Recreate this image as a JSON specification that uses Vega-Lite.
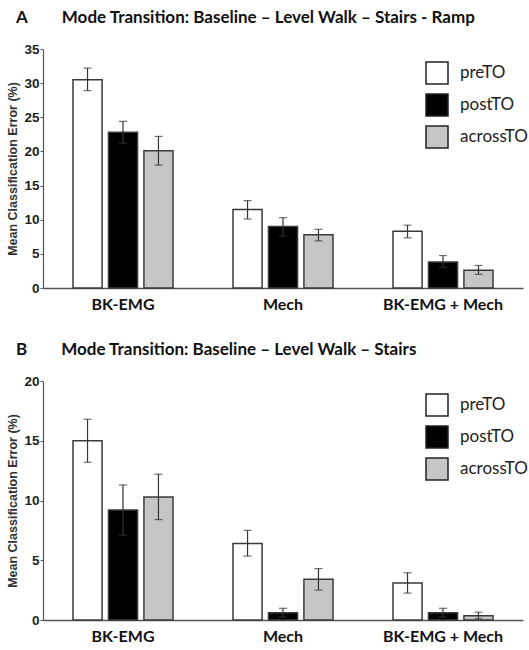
{
  "$schema": "https://vega.github.io/schema/vega-lite/v6.json",
  "background": "white",
  "padding": {"left": 6, "top": 9, "right": 1, "bottom": 0},
  "spacing": 29,
  "config": {
    "view": {"stroke": null},
    "font": "Lato",
    "title": {"font": "Lato", "fontSize": 17, "fontWeight": "bold", "color": "#111", "anchor": "start", "frame": "group", "dx": -27, "offset": 15},
    "axisX": {"domainColor": "#555", "domainWidth": 1.5, "ticks": false, "labelFont": "Lato", "labelFontSize": 16, "labelFontWeight": "bold", "labelColor": "#111", "labelPadding": 8, "labelAngle": 0, "title": null},
    "axisY": {"domainColor": "#555", "domainWidth": 1.2, "tickColor": "#555", "tickSize": 3, "labelFont": "Liberation Sans", "labelFontSize": 13.5, "labelFontWeight": "bold", "labelColor": "#222", "labelPadding": 1, "labelOverlap": false, "grid": false, "titleFont": "Liberation Sans", "titleFontSize": 12.5, "titleFontWeight": "bold", "titleColor": "#333", "titlePadding": 4},
    "legend": {"orient": "none", "legendX": 382, "legendY": 12, "symbolType": "square", "symbolSize": 484, "symbolStrokeColor": "#222", "symbolStrokeWidth": 1.5, "labelFont": "Lato", "labelFontSize": 17, "labelColor": "#222", "labelOffset": 11, "rowPadding": 4, "title": null}
  },
  "datasets": {
    "A": [
      {"interface": "BK-EMG", "window": "preTO", "mean": 30.5, "lo": 28.9, "hi": 32.2},
      {"interface": "BK-EMG", "window": "postTO", "mean": 22.8, "lo": 21.2, "hi": 24.4},
      {"interface": "BK-EMG", "window": "acrossTO", "mean": 20.1, "lo": 18.0, "hi": 22.2},
      {"interface": "Mech", "window": "preTO", "mean": 11.5, "lo": 10.1, "hi": 12.8},
      {"interface": "Mech", "window": "postTO", "mean": 9.0, "lo": 7.6, "hi": 10.3},
      {"interface": "Mech", "window": "acrossTO", "mean": 7.8, "lo": 6.9, "hi": 8.6},
      {"interface": "BK-EMG + Mech", "window": "preTO", "mean": 8.3, "lo": 7.35, "hi": 9.2},
      {"interface": "BK-EMG + Mech", "window": "postTO", "mean": 3.8, "lo": 3.0, "hi": 4.75},
      {"interface": "BK-EMG + Mech", "window": "acrossTO", "mean": 2.6, "lo": 2.0, "hi": 3.3}
    ],
    "B": [
      {"interface": "BK-EMG", "window": "preTO", "mean": 15.0, "lo": 13.2, "hi": 16.8},
      {"interface": "BK-EMG", "window": "postTO", "mean": 9.2, "lo": 7.1, "hi": 11.3},
      {"interface": "BK-EMG", "window": "acrossTO", "mean": 10.3, "lo": 8.4, "hi": 12.2},
      {"interface": "Mech", "window": "preTO", "mean": 6.4, "lo": 5.35, "hi": 7.5},
      {"interface": "Mech", "window": "postTO", "mean": 0.6, "lo": 0.25, "hi": 0.98},
      {"interface": "Mech", "window": "acrossTO", "mean": 3.4, "lo": 2.5, "hi": 4.3},
      {"interface": "BK-EMG + Mech", "window": "preTO", "mean": 3.1, "lo": 2.25, "hi": 3.95},
      {"interface": "BK-EMG + Mech", "window": "postTO", "mean": 0.6, "lo": 0.25, "hi": 0.98},
      {"interface": "BK-EMG + Mech", "window": "acrossTO", "mean": 0.35, "lo": 0.1, "hi": 0.65}
    ]
  },
  "vconcat": [
    {
      "title": {"text": "A\u2003\u2003\u2002Mode Transition: Baseline \u2013 Level Walk \u2013 Stairs - Ramp"},
      "width": 480,
      "height": 239,
      "data": {"name": "A"},
      "encoding": {
        "x": {"field": "interface", "type": "nominal", "sort": ["BK-EMG", "Mech", "BK-EMG + Mech"], "scale": {"paddingInner": 0.375, "paddingOuter": 0.1875}},
        "xOffset": {"field": "window", "type": "nominal", "sort": ["preTO", "postTO", "acrossTO"], "scale": {"paddingInner": 0.18}}
      },
      "layer": [
        {
          "mark": {"type": "bar", "stroke": "#3a3a3a", "strokeWidth": 1.5},
          "encoding": {
            "y": {"field": "mean", "type": "quantitative", "scale": {"domain": [0, 35]}, "axis": {"values": [0, 5, 10, 15, 20, 25, 30, 35], "labelOverlap": false, "title": "Mean Classification Error (%)"}},
            "fill": {"field": "window", "type": "nominal", "scale": {"domain": ["preTO", "postTO", "acrossTO"], "range": ["#ffffff", "#000000", "#c6c6c6"]}}
          }
        },
        {
          "mark": {"type": "rule", "color": "#333", "strokeWidth": 1.2},
          "encoding": {"y": {"field": "lo", "type": "quantitative", "axis": {"values": [0, 5, 10, 15, 20, 25, 30, 35], "labelOverlap": false, "title": "Mean Classification Error (%)"}}, "y2": {"field": "hi"}}
        },
        {
          "mark": {"type": "tick", "color": "#333", "size": 8, "thickness": 1.2},
          "encoding": {"y": {"field": "lo", "type": "quantitative", "axis": {"values": [0, 5, 10, 15, 20, 25, 30, 35], "labelOverlap": false, "title": "Mean Classification Error (%)"}}}
        },
        {
          "mark": {"type": "tick", "color": "#333", "size": 8, "thickness": 1.2},
          "encoding": {"y": {"field": "hi", "type": "quantitative", "axis": {"values": [0, 5, 10, 15, 20, 25, 30, 35], "labelOverlap": false, "title": "Mean Classification Error (%)"}}}
        }
      ]
    },
    {
      "title": {"text": "B\u2003\u2003\u2002Mode Transition: Baseline \u2013 Level Walk \u2013 Stairs"},
      "width": 480,
      "height": 239,
      "data": {"name": "B"},
      "encoding": {
        "x": {"field": "interface", "type": "nominal", "sort": ["BK-EMG", "Mech", "BK-EMG + Mech"], "scale": {"paddingInner": 0.375, "paddingOuter": 0.1875}},
        "xOffset": {"field": "window", "type": "nominal", "sort": ["preTO", "postTO", "acrossTO"], "scale": {"paddingInner": 0.18}}
      },
      "layer": [
        {
          "mark": {"type": "bar", "stroke": "#3a3a3a", "strokeWidth": 1.5},
          "encoding": {
            "y": {"field": "mean", "type": "quantitative", "scale": {"domain": [0, 20]}, "axis": {"values": [0, 5, 10, 15, 20], "labelOverlap": false, "title": "Mean Classification Error (%)"}},
            "fill": {"field": "window", "type": "nominal", "scale": {"domain": ["preTO", "postTO", "acrossTO"], "range": ["#ffffff", "#000000", "#c6c6c6"]}}
          }
        },
        {
          "mark": {"type": "rule", "color": "#333", "strokeWidth": 1.2},
          "encoding": {"y": {"field": "lo", "type": "quantitative", "axis": {"values": [0, 5, 10, 15, 20], "labelOverlap": false, "title": "Mean Classification Error (%)"}}, "y2": {"field": "hi"}}
        },
        {
          "mark": {"type": "tick", "color": "#333", "size": 8, "thickness": 1.2},
          "encoding": {"y": {"field": "lo", "type": "quantitative", "axis": {"values": [0, 5, 10, 15, 20], "labelOverlap": false, "title": "Mean Classification Error (%)"}}}
        },
        {
          "mark": {"type": "tick", "color": "#333", "size": 8, "thickness": 1.2},
          "encoding": {"y": {"field": "hi", "type": "quantitative", "axis": {"values": [0, 5, 10, 15, 20], "labelOverlap": false, "title": "Mean Classification Error (%)"}}}
        }
      ]
    }
  ],
  "resolve": {"scale": {"fill": "independent", "y": "independent"}, "legend": {"fill": "independent"}}
}
